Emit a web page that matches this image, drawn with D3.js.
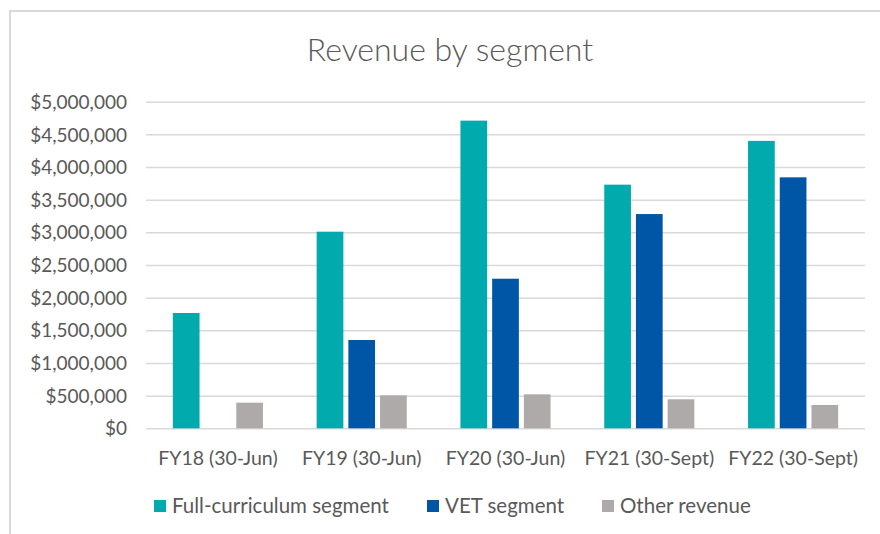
<!DOCTYPE html>
<html>
<head>
<meta charset="utf-8">
<script src="https://cdn.jsdelivr.net/npm/d3@7"></script>
<style>
  html, body { margin: 0; padding: 0; background: #ffffff; }
  svg { display: block; }
  text { font-family: Lato, "Open Sans", sans-serif; fill: #595959; }
</style>
</head>
<body>
<svg id="chart" width="880" height="534"></svg>
<script>
const categories = ["FY18 (30-Jun)", "FY19 (30-Jun)", "FY20 (30-Jun)", "FY21 (30-Sept)", "FY22 (30-Sept)"];
const seriesNames = ["Full-curriculum segment", "VET segment", "Other revenue"];
const fullCurriculum = [1765000, 3010000, 4710000, 3730000, 4400000];
const vetSegment = [0, 1352000, 2290000, 3280000, 3842000];
const otherRevenue = [392000, 505000, 520000, 444000, 357000];
const yTicks = [0, 500000, 1000000, 1500000, 2000000, 2500000, 3000000, 3500000, 4000000, 4500000, 5000000];
const colors = ["#00AAAD", "#0056A6", "#AEAAAA"];

const series = [fullCurriculum, vetSegment, otherRevenue];

const svg = d3.select("#chart");

// chart area border
svg.append("rect")
  .attr("x", 10).attr("y", 11)
  .attr("width", 900).attr("height", 560)
  .attr("fill", "#ffffff")
  .attr("stroke", "#D9D9D9").attr("stroke-width", 2);

const plot = { left: 146, right: 865, top: 101.7, bottom: 428.3 };

const x = d3.scaleBand().domain(categories).range([plot.left, plot.right]).paddingInner(0).paddingOuter(0);
const y = d3.scaleLinear().domain([0, 5000000]).range([plot.bottom, plot.top]);

// Excel-like gap width / overlap
const gapWidth = 2.01, overlap = -0.187;
const B = x.bandwidth();
const barW = B / (3 - 2 * overlap + gapWidth);
const barGap = -overlap * barW;
const groupOffset = (B - (3 * barW + 2 * barGap)) / 2;
const sub = d3.scaleOrdinal().domain([0, 1, 2]).range([0, 1, 2].map(i => groupOffset + i * (barW + barGap)));

// gridlines
const yAxis = d3.axisLeft(y).tickValues(yTicks)
  .tickSize(-(plot.right - plot.left))
  .tickFormat(d => "$" + d3.format(",")(d));
const gy = svg.append("g").attr("transform", `translate(${plot.left},0)`).call(yAxis);
gy.select(".domain").remove();
gy.selectAll(".tick line").attr("stroke", "#D9D9D9").attr("stroke-width", 1.5);
gy.selectAll(".tick text")
  .attr("x", -19)
  .attr("dy", "0.35em")
  .style("font-size", "19px")
  .attr("fill", "#595959");

// bars
const data = [];
series.forEach((vals, si) => {
  vals.forEach((v, ci) => data.push({ cat: categories[ci], s: si, v: v }));
});
svg.append("g").selectAll("rect")
  .data(data.filter(d => d.v > 0))
  .join("rect")
  .attr("x", d => x(d.cat) + sub(d.s))
  .attr("y", d => y(d.v))
  .attr("width", barW)
  .attr("height", d => y(0) - y(d.v))
  .attr("fill", d => colors[d.s]);

// x axis labels
const xAxis = d3.axisBottom(x).tickSize(0).tickPadding(0);
const gx = svg.append("g").attr("transform", `translate(0,${plot.bottom})`).call(xAxis);
gx.select(".domain").remove();
gx.selectAll(".tick text")
  .attr("y", 30)
  .attr("dy", "0.35em")
  .style("font-size", "19.5px")
  .attr("fill", "#595959");

// title
svg.append("text")
  .attr("x", 450).attr("y", 61)
  .attr("text-anchor", "middle")
  .style("font-size", "32px")
  .style("font-weight", "300")
  .text("Revenue by segment");

// legend
const legendX = [154, 427, 602];
const lg = svg.append("g");
seriesNames.forEach((name, i) => {
  const g = lg.append("g").attr("transform", `translate(${legendX[i]},500)`);
  g.append("rect").attr("width", 12).attr("height", 12).attr("fill", colors[i]);
  g.append("text").attr("x", 18).attr("y", 6).attr("dy", "0.35em")
    .style("font-size", "20.5px").text(name);
});
</script>
</body>
</html>
